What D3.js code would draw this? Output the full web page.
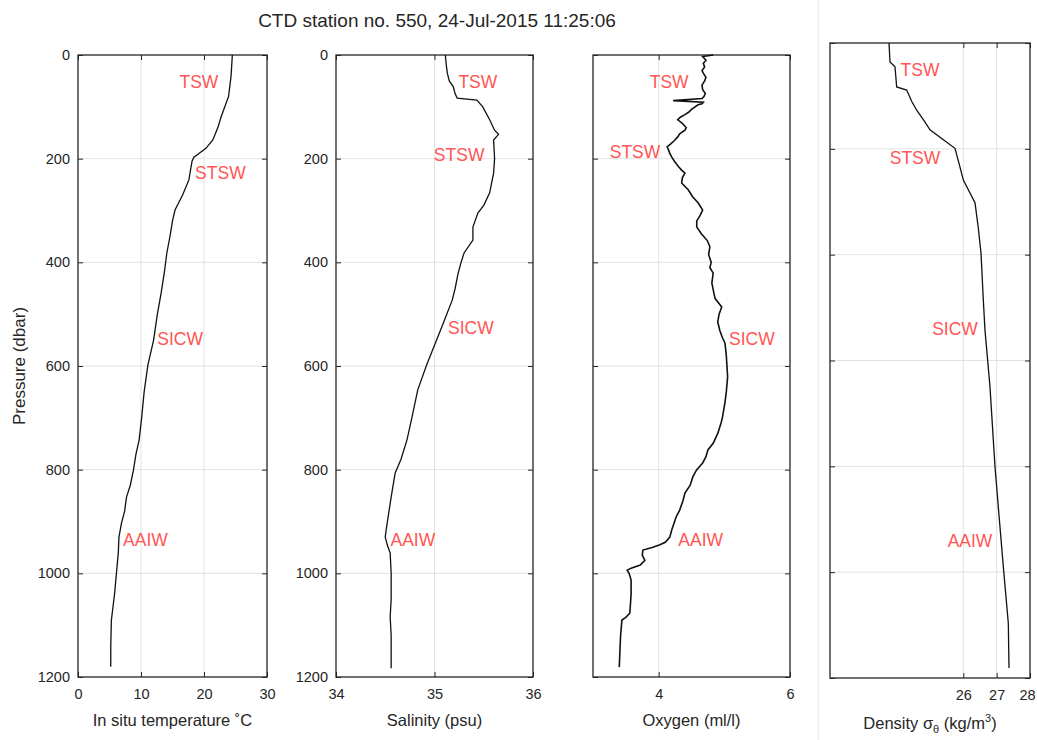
<!DOCTYPE html>
<html>
<head>
<meta charset="utf-8">
<script src="https://cdn.jsdelivr.net/npm/d3@7"></script>
<style>
  html, body { margin: 0; padding: 0; background: #fff; }
  svg { display: block; font-family: "Liberation Sans", Arial, sans-serif; }
</style>
</head>
<body>
<svg id="chart" width="1037" height="740"></svg>
<script>
// CTD cast, station 550 — profiles as [pressure (dbar), value]
const titleText = "CTD station no. 550, 24-Jul-2015 11:25:06";
const pressureTicks = [0, 200, 400, 600, 800, 1000, 1200];

const temperatureProfile = [
  [0, 24.5], [20, 24.4], [40, 24.3], [60, 24.1], [80, 23.9], [100, 23.3], [120, 22.7],
  [140, 22.2], [164, 21.4], [180, 20.3], [190, 19.2], [197, 18.4], [205, 18.1], [241, 17.6],
  [270, 16.6], [299, 15.4], [320, 15.0], [350, 14.6], [382, 14.1], [420, 13.7], [459, 13.2],
  [500, 12.6], [550, 12.0], [598, 11.1], [650, 10.5], [700, 10.1], [743, 9.7], [770, 9.2],
  [801, 8.8], [830, 8.3], [853, 7.7], [880, 7.4], [903, 6.9], [930, 6.5], [960, 6.4],
  [1000, 6.1], [1040, 5.8], [1090, 5.3], [1140, 5.2], [1180, 5.2]
];

const salinityProfile = [
  [0, 35.11], [20, 35.12], [35, 35.13], [50, 35.15], [61, 35.19], [75, 35.21], [83, 35.23],
  [87, 35.43], [100, 35.49], [125, 35.56], [145, 35.61], [153, 35.65], [164, 35.60],
  [200, 35.61], [228, 35.60], [266, 35.56], [290, 35.50], [305, 35.44], [332, 35.39],
  [357, 35.39], [382, 35.30], [400, 35.27], [421, 35.24], [450, 35.21], [473, 35.18],
  [517, 35.09], [560, 35.00], [598, 34.92], [646, 34.83], [700, 34.77], [743, 34.72],
  [780, 34.66], [807, 34.60], [853, 34.56], [890, 34.53], [915, 34.51], [930, 34.50],
  [945, 34.52], [961, 34.55], [1000, 34.56], [1050, 34.56], [1084, 34.55], [1120, 34.56],
  [1183, 34.56]
];

const oxygenProfile = [
  [0, 4.83], [3, 4.67], [10, 4.72], [16, 4.68], [23, 4.70], [30, 4.66], [35, 4.68], [43, 4.72],
  [50, 4.70], [58, 4.66], [67, 4.67], [74, 4.71], [80, 4.69], [84, 4.66], [88, 4.22],
  [91, 4.68], [94, 4.66], [96, 4.60], [105, 4.50], [110, 4.46], [115, 4.40], [120, 4.33],
  [125, 4.29], [132, 4.36], [140, 4.42], [145, 4.40], [152, 4.32], [158, 4.29], [165, 4.24],
  [172, 4.18], [177, 4.13], [183, 4.15], [190, 4.17], [197, 4.20], [205, 4.24], [215, 4.30],
  [222, 4.35], [228, 4.40], [237, 4.36], [247, 4.35], [260, 4.45], [274, 4.52], [285, 4.60],
  [299, 4.67], [310, 4.63], [320, 4.58], [332, 4.58], [345, 4.65], [358, 4.74], [370, 4.78],
  [385, 4.76], [400, 4.80], [410, 4.78], [421, 4.83], [440, 4.81], [459, 4.84], [470, 4.86],
  [486, 4.96], [500, 4.92], [515, 4.90], [531, 4.93], [545, 4.97], [556, 5.01], [580, 5.03],
  [600, 5.04], [621, 5.05], [650, 5.03], [670, 5.01], [685, 4.99], [700, 4.97], [710, 4.95],
  [730, 4.90], [749, 4.83], [762, 4.75], [775, 4.72], [787, 4.67], [800, 4.58], [814, 4.52],
  [830, 4.48], [845, 4.40], [860, 4.37], [878, 4.32], [890, 4.27], [905, 4.23], [916, 4.20],
  [930, 4.17], [940, 4.10], [945, 4.02], [950, 3.90], [955, 3.76], [965, 3.75], [975, 3.79],
  [984, 3.72], [990, 3.58], [994, 3.52], [1000, 3.55], [1013, 3.58], [1040, 3.58],
  [1060, 3.57], [1077, 3.56], [1085, 3.50], [1090, 3.44], [1120, 3.42], [1150, 3.41],
  [1181, 3.40]
];

const densityProfile = [
  [0, 23.77], [36, 23.80], [45, 23.95], [83, 24.00], [89, 24.30], [110, 24.45], [127, 24.60],
  [145, 24.80], [164, 25.00], [183, 25.40], [199, 25.75], [230, 25.88], [259, 26.00],
  [302, 26.35], [350, 26.45], [397, 26.53], [486, 26.60], [543, 26.65], [650, 26.80],
  [801, 26.95], [900, 27.08], [990, 27.20], [1097, 27.35], [1181, 27.37]
];

// water-mass annotations: [name, value on x axis, pressure]
const temperatureLabels = [["TSW", 19.2, 52], ["STSW", 22.6, 228], ["SICW", 16.2, 548], ["AAIW", 10.7, 936]];
const salinityLabels = [["TSW", 35.44, 52], ["STSW", 35.25, 193], ["SICW", 35.37, 527], ["AAIW", 34.78, 936]];
const oxygenLabels = [["TSW", 4.16, 52], ["STSW", 3.64, 187], ["SICW", 5.42, 548], ["AAIW", 4.64, 936]];
const densityLabels = [["TSW", 24.7, 51], ["STSW", 24.55, 217], ["SICW", 25.75, 539], ["AAIW", 26.2, 941]];

const temperatureTicks = [0, 10, 20, 30];
const salinityTicks = [34, 35, 36];
const oxygenTicks = [4, 6];
const densityTicks = [26, 27, 28];

const svg = d3.select("#chart");
const axisColor = "#262626";
const gridColor = "#e2e2e2";
const labelRed = "#ff5555";

svg.append("rect").attr("width", 1037).attr("height", 740).attr("fill", "#fff");
// faint seam left of the density panel
svg.append("line").attr("x1", 818.5).attr("x2", 818.5).attr("y1", 0).attr("y2", 740)
  .attr("stroke", "#f0f0f0").attr("stroke-width", 1.5);

svg.append("text").attr("x", 437).attr("y", 27).attr("text-anchor", "middle")
  .attr("font-size", 19).attr("fill", axisColor).text(titleText);

svg.append("text").attr("transform", "translate(25,366) rotate(-90)")
  .attr("text-anchor", "middle").attr("font-size", 17).attr("fill", axisColor)
  .text("Pressure (dbar)");

function drawPanel(cfg) {
  const x = d3.scaleLinear().domain(cfg.domain).range([cfg.left, cfg.right]);
  const y = d3.scaleLinear().domain([0, 1200]).range([cfg.top, cfg.bottom]);
  const g = svg.append("g");

  // grid
  g.selectAll(".gx").data(cfg.ticks.filter(t => t > cfg.domain[0] && t < cfg.domain[1]))
    .join("line").attr("x1", d => x(d)).attr("x2", d => x(d))
    .attr("y1", cfg.top).attr("y2", cfg.bottom).attr("stroke", gridColor).attr("stroke-width", 1);
  g.selectAll(".gy").data(pressureTicks.slice(1, -1))
    .join("line").attr("x1", cfg.left).attr("x2", cfg.right)
    .attr("y1", d => y(d)).attr("y2", d => y(d)).attr("stroke", gridColor).attr("stroke-width", 1);

  // bottom axis (ticks pointing inward) + mirrored top ticks
  const tl = 5;
  const bottomAxis = d3.axisBottom(x).tickValues(cfg.ticks).tickSize(-tl).tickPadding(14)
    .tickFormat(d3.format("d"));
  const ba = g.append("g").attr("transform", `translate(0,${cfg.bottom})`).call(bottomAxis);
  const topAxis = d3.axisTop(x).tickValues(cfg.ticks).tickSize(-tl).tickFormat("");
  const ta = g.append("g").attr("transform", `translate(0,${cfg.top})`).call(topAxis);

  const leftAxis = d3.axisLeft(y).tickValues(pressureTicks).tickSize(-tl).tickPadding(8)
    .tickFormat(cfg.yLabels ? d3.format("d") : "");
  const la = g.append("g").attr("transform", `translate(${cfg.left},0)`).call(leftAxis);
  const rightAxis = d3.axisRight(y).tickValues(pressureTicks).tickSize(-tl).tickFormat("");
  const ra = g.append("g").attr("transform", `translate(${cfg.right},0)`).call(rightAxis);

  [ba, ta, la, ra].forEach(a => {
    a.select(".domain").remove();
    a.selectAll(".tick line").attr("stroke", axisColor).attr("stroke-width", 1);
    a.selectAll(".tick text").attr("fill", axisColor).attr("font-size", 14.5)
      .attr("font-family", "Liberation Sans, Arial, sans-serif");
  });
  ba.selectAll(".tick text").attr("dy", "0.55em");
  // keep the last tick label inside the page
  ba.selectAll(".tick text").filter(d => x(d) > 1020).attr("dx", -3);

  // box
  g.append("rect").attr("x", cfg.left).attr("y", cfg.top)
    .attr("width", cfg.right - cfg.left).attr("height", cfg.bottom - cfg.top)
    .attr("fill", "none").attr("stroke", axisColor).attr("stroke-width", 1.3);

  // profile
  const line = d3.line().x(d => x(d[1])).y(d => y(d[0]));
  g.append("path").datum(cfg.profile).attr("d", line)
    .attr("fill", "none").attr("stroke", "#111").attr("stroke-width", cfg.lineWidth || 1.3)
    .attr("stroke-linejoin", "miter");

  // water-mass labels
  g.selectAll(".wm").data(cfg.labels).join("text")
    .attr("x", d => x(d[1])).attr("y", d => y(d[2])).attr("dy", "0.36em")
    .attr("text-anchor", "middle").attr("font-size", 17.5).attr("fill", labelRed)
    .text(d => d[0]);

  // x label
  const xl = g.append("text").attr("x", (cfg.left + cfg.right) / 2).attr("y", cfg.labelY)
    .attr("text-anchor", "middle").attr("font-size", 16.5).attr("fill", axisColor);
  cfg.xLabel(xl);
}

drawPanel({
  left: 78, right: 267, top: 55, bottom: 677, domain: [0, 30], ticks: temperatureTicks,
  yLabels: true, profile: temperatureProfile, labels: temperatureLabels, labelY: 726,
  xLabel: t => t.text("In situ temperature ˚C")
});
drawPanel({
  left: 336, right: 533, top: 55, bottom: 677, domain: [34, 36], ticks: salinityTicks,
  yLabels: true, profile: salinityProfile, labels: salinityLabels, labelY: 726,
  xLabel: t => t.text("Salinity (psu)")
});
drawPanel({
  left: 593, right: 790, top: 55, bottom: 677, domain: [3, 6], ticks: oxygenTicks,
  yLabels: false, profile: oxygenProfile, labels: oxygenLabels, labelY: 726, lineWidth: 1.6,
  xLabel: t => t.text("Oxygen (ml/l)")
});
drawPanel({
  left: 830, right: 1030, top: 43, bottom: 678, domain: [22, 28], ticks: densityTicks,
  yLabels: false, profile: densityProfile, labels: densityLabels, labelY: 729,
  xLabel: t => {
    t.append("tspan").text("Density ");
    t.append("tspan").text("σ");
    t.append("tspan").attr("font-size", 11).attr("dy", 4).text("θ");
    t.append("tspan").attr("dy", -4).text(" (kg/m");
    t.append("tspan").attr("font-size", 11).attr("dy", -7).text("3");
    t.append("tspan").attr("dy", 7).text(")");
  }
});
</script>
</body>
</html>
